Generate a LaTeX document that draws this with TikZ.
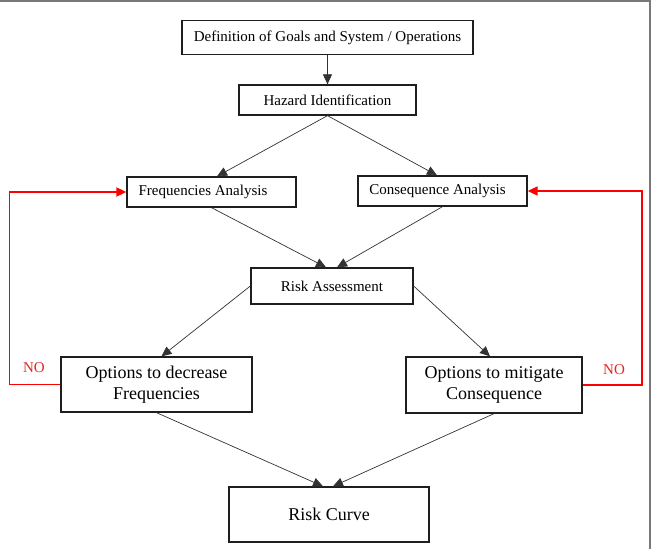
\documentclass[tikz,border=0pt]{standalone}
\usepackage{fontspec}
\setmainfont{Liberation Serif}
\usetikzlibrary{arrows.meta}
\definecolor{frame}{RGB}{120,120,120}
\definecolor{boxline}{RGB}{30,30,30}
\definecolor{nored}{RGB}{225,40,40}
\tikzset{
  box/.style={draw=boxline, line width=1.3pt, inner sep=0pt, align=center,
    font=\fontsize{15}{18}\selectfont, text=black},
  bigbox/.style={box, font=\fontsize{18}{21}\selectfont},
  conn/.style={draw=black!80, line width=0.7pt, -{Triangle[length=10pt,width=9pt]}},
  loop/.style={draw=red, line width=1.7pt, -{Triangle[length=10pt,width=9pt]}},
  nolabel/.style={text=nored, font=\fontsize{15}{18}\selectfont, inner sep=0pt}
}
\begin{document}
\begin{tikzpicture}[x=1pt,y=-1pt]
\useasboundingbox (0,0) rectangle (654,549);
\fill[white] (0,0) rectangle (654,549);
% partial outer frame
\draw[frame, line width=2pt] (0,1) -- (650,1) -- (650,549);

\node[box, minimum width=291pt, minimum height=34pt] (def) at (327.5,37.5) {Definition of Goals and System / Operations};
\node[box, minimum width=177pt, minimum height=30pt] (haz) at (327.5,100) {Hazard Identification};
\node[box, minimum width=169pt, minimum height=30pt] (freq) at (211.5,192) {Frequencies Analysis\hspace*{17pt}};
\node[box, minimum width=169pt, minimum height=30pt] (cons) at (442.5,191) {Consequence Analysis\hspace*{10pt}};
\node[box, minimum width=162pt, minimum height=36pt] (ra) at (332,286) {Risk Assessment};
\node[bigbox, minimum width=191pt, minimum height=55pt] (dec) at (156.5,384.5) {Options to decrease\\Frequencies};
\node[bigbox, minimum width=176pt, minimum height=56pt] (mit) at (494,385) {Options to mitigate\\Consequence};
\node[bigbox, minimum width=200pt, minimum height=55pt] (rc) at (329,514.5) {Risk Curve};

\node[nolabel] (noL) at (34,368) {NO};
\node[nolabel] (noR) at (614,370) {NO};

\draw[conn] (def.south) -- (haz.north);
\draw[conn] (haz.south) -- ([xshift=5.5pt]freq.north);
\draw[conn] (haz.south) -- ([xshift=-5.5pt]cons.north);
\draw[conn] (freq.south) -- ([xshift=-6pt]ra.north);
\draw[conn] (cons.south) -- ([xshift=5pt]ra.north);
\draw[conn] (ra.west) -- ([xshift=5pt]dec.north);
\draw[conn] (ra.east) -- ([xshift=-4pt]mit.north);
\draw[conn] (dec.south) -- ([xshift=-6pt]rc.north);
\draw[conn] (mit.south) -- ([xshift=4pt]rc.north);

\draw[loop] (dec.west) -- ++(-51,0) |- (freq.west);
\draw[loop] (mit.east) -- ++(59,0) |- (cons.east);
\end{tikzpicture}
\end{document}
